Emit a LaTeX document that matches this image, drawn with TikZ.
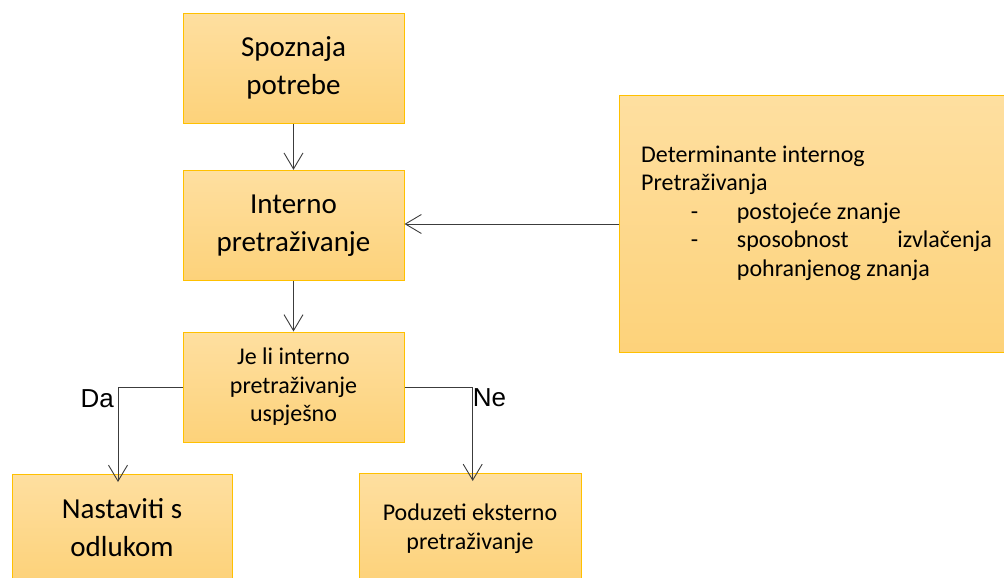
\documentclass[tikz,border=0pt]{standalone}
\usepackage{fontspec}
\setmainfont{Carlito}
\newfontfamily\labfont{Liberation Sans}
\usetikzlibrary{arrows.meta,positioning,calc}
\definecolor{boxtop}{RGB}{254,223,160}
\definecolor{boxbot}{RGB}{253,210,122}
\definecolor{boxline}{RGB}{255,192,0}
\definecolor{linegray}{RGB}{60,60,60}

\begin{document}
\begin{tikzpicture}[x=1pt,y=-1pt,
  box/.style={draw=boxline,line width=1pt,top color=boxtop,bottom color=boxbot,
    inner sep=0pt,align=center},
  big/.style={font=\fontsize{29}{38}\selectfont},
  small/.style={font=\fontsize{24}{28.5}\selectfont},
  arr/.style={draw=linegray,line width=0.9pt,
    -{Straight Barb[length=16pt,width=19pt,line width=0.9pt]}},
  lab/.style={font=\labfont\fontsize{26}{30}\selectfont,inner sep=0pt}]

\useasboundingbox (0,0) rectangle (1004,578);

% main column
\node [box,big,minimum width=221pt,minimum height=110pt] (potreba) at (293.5,68.3) {Spoznaja\\potrebe};
\node [box,big,minimum width=221pt,minimum height=110pt,below=46pt of potreba] (interno) {Interno\\pretraživanje};
\node [box,small,minimum width=221pt,minimum height=110pt,below=50.7pt of interno] (pitanje) {Je li interno\\pretraživanje\\uspješno};

% outcomes
\node [box,big,minimum width=220pt,minimum height=106pt,anchor=north] (nastaviti) at (122,474) {Nastaviti s\\odlukom};
\node [box,small,minimum width=222pt,minimum height=110pt,anchor=north] (eksterno) at (470,473) {Poduzeti eksterno\\pretraživanje};

% determinants
\node [box,minimum width=400pt,minimum height=257pt,anchor=north west] (det) at (619.3,95) {};
\node [small,inner sep=0pt,align=left,anchor=base west] (dettext) at (641,276)
  {Determinante internog\\
   Pretraživanja\\
   \makebox[95.7pt][l]{\hspace*{49.7pt}-}postojeće znanje\\
   \makebox[95.7pt][l]{\hspace*{49.7pt}-}\makebox[255pt][s]{sposobnost\hfill izvlačenja}\\
   \hspace*{95.7pt}pohranjenog znanja};

\coordinate (da) at (118,387);
\coordinate (ne) at (472.7,387);

\draw [arr] (potreba) -- (interno);
\draw [arr] (interno) -- (pitanje);
\draw [arr] (det.west) -- (det.west -| interno.east);
\draw [arr,shorten >=-8pt] (pitanje.west |- da) -- (da) -- (da |- nastaviti.north);
\draw [arr,shorten >=-8pt] (pitanje.east |- ne) -- (ne) -- (ne |- eksterno.north);

\node [lab,anchor=north east] (dalab) at ([xshift=-4pt,yshift=-2pt]da) {Da};
\node [lab,anchor=north west] (nelab) at ([yshift=-1pt]ne) {Ne};

\end{tikzpicture}
\end{document}
